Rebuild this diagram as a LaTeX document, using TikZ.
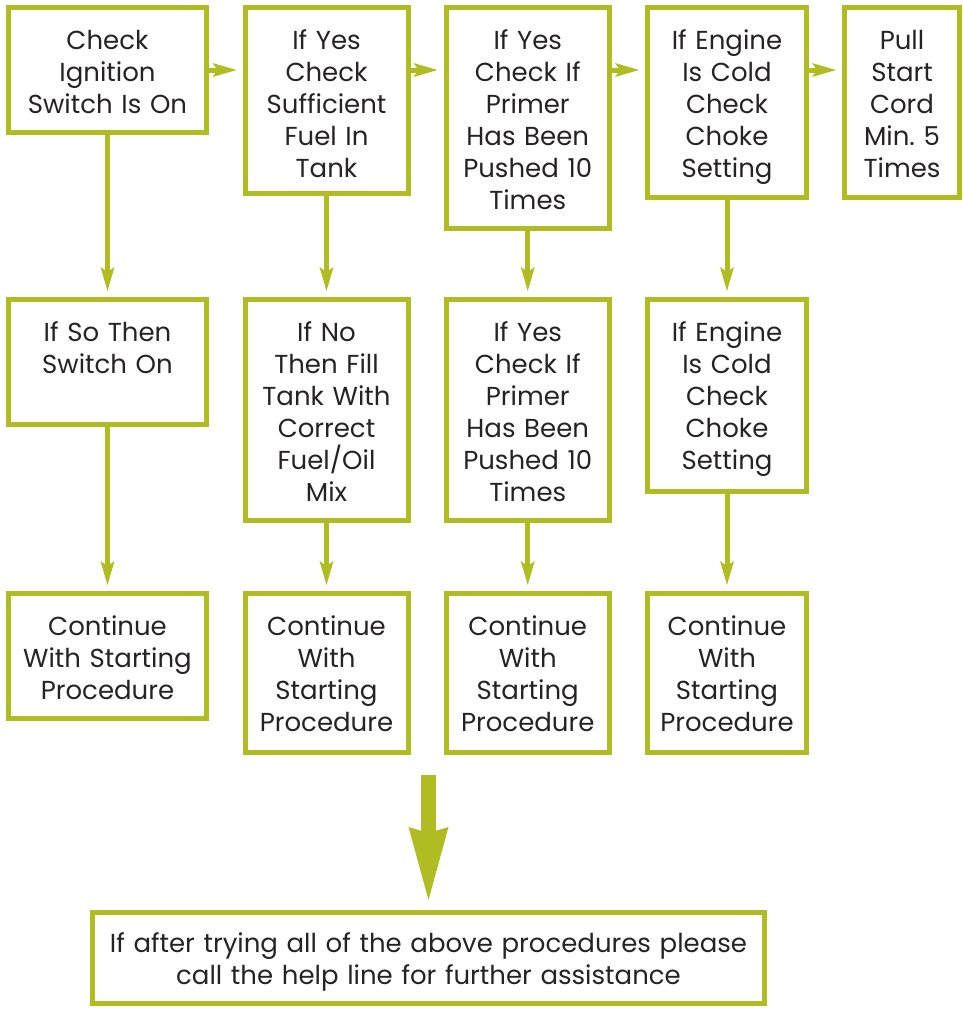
\documentclass[tikz,border=0pt]{standalone}
\usepackage{fontspec}
\setmainfont{Poppins}
\usetikzlibrary{arrows.meta}
\definecolor{leaf}{RGB}{175,189,35}
\definecolor{ink}{RGB}{38,35,36}
\tikzset{
  stepbox/.style = {
    draw=leaf, line width=5pt, fill=white,
    inner sep=0pt, anchor=north, align=center,
    text width=#1, text height=42pt, text=ink,
    font=\fontsize{26}{32}\selectfont
  },
  flow/.style = {
    draw=leaf, line width=5pt, shorten >=6pt,
    -{Stealth[length=24pt,width=14pt,inset=5pt,line width=0pt]}
  },
  bigflow/.style = {
    draw=leaf, line width=15.5pt, shorten >=10pt,
    -{Stealth[length=73pt,width=40pt,inset=6pt,line width=0pt]}
  }
}

\begin{document}
\begin{tikzpicture}[x=1pt,y=-1pt]
  \useasboundingbox (0,0) rectangle (962,1010);
  % first row
  \node[stepbox=198pt,text depth=83pt]  (check)  at (107.5,5) {Check\\Ignition\\Switch Is On};
  \node[stepbox=163pt,text depth=144pt] (fuel)   at (326.5,5) {If Yes\\Check\\Sufficient\\Fuel In\\Tank};
  \node[stepbox=163.5pt,text depth=179pt] (primer) at (527.75,5) {If Yes\\Check If\\Primer\\Has Been\\Pushed 10\\Times};
  \node[stepbox=159pt,text depth=148pt] (choke)  at (727,5) {If Engine\\Is Cold\\Check\\Choke\\Setting};
  \node[stepbox=115pt,text depth=148pt] (pull)   at (902,5) {Pull\\Start\\Cord\\Min.\ 5\\Times};
  % second row
  \node[stepbox=198pt,text depth=83pt]  (switch)  at (107.5,297) {If So Then\\Switch On};
  \node[stepbox=163pt,text depth=179pt] (fill)    at (326.5,297) {If No\\Then Fill\\Tank With\\Correct\\Fuel/Oil\\Mix};
  \node[stepbox=163.5pt,text depth=179pt] (primerb) at (527.75,297) {If Yes\\Check If\\Primer\\Has Been\\Pushed 10\\Times};
  \node[stepbox=159pt,text depth=150pt] (chokeb)  at (727,297) {If Engine\\Is Cold\\Check\\Choke\\Setting};
  % third row
  \node[stepbox=198pt,text depth=83pt]  (contA) at (107.5,591) {Continue\\With Starting\\Procedure};
  \node[stepbox=163pt,text depth=117pt] (contB) at (326.5,591) {Continue\\With\\Starting\\Procedure};
  \node[stepbox=163.5pt,text depth=117pt] (contC) at (527.75,591) {Continue\\With\\Starting\\Procedure};
  \node[stepbox=159pt,text depth=117pt] (contD) at (727,591) {Continue\\With\\Starting\\Procedure};
  % help line
  \node[stepbox=672pt,text depth=51pt,text height=40pt] (help) at (428.5,910)
    {If after trying all of the above procedures please\\call the help line for further assistance};
  % arrows
  \draw[flow] (check.east) -- (fuel.west |- check.east);
  \draw[flow] (fuel.east |- check.east) -- (primer.west |- check.east);
  \draw[flow] (primer.east |- check.east) -- (choke.west |- check.east);
  \draw[flow] (choke.east |- check.east) -- (pull.west |- check.east);
  \draw[flow] (check) -- (switch);
  \draw[flow] (fuel) -- (fill);
  \draw[flow] (primer) -- (primerb);
  \draw[flow] (choke) -- (chokeb);
  \draw[flow] (switch) -- (contA);
  \draw[flow] (fill) -- (contB);
  \draw[flow] (primerb) -- (contC);
  \draw[flow] (chokeb) -- (contD);
  \coordinate (drop) at (428.5,775);
  \draw[bigflow] (drop) -- (help);
\end{tikzpicture}
\end{document}
